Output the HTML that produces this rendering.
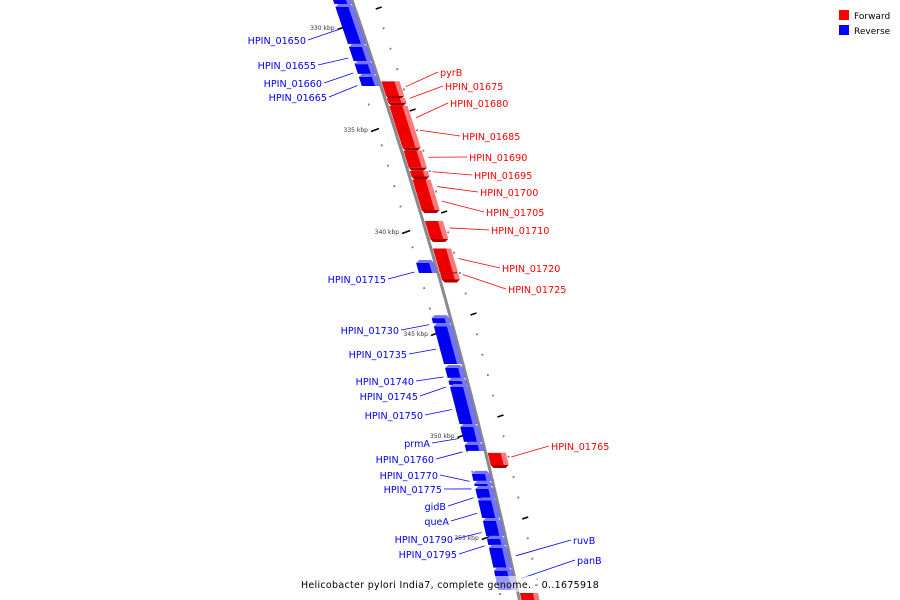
<!DOCTYPE html>
<html><head><meta charset="utf-8"><style>
html,body{margin:0;padding:0;background:#fff;overflow:hidden;width:900px;height:600px;}
svg{display:block;font-family:"DejaVu Sans","Liberation Sans",sans-serif;}
</style></head><body>
<svg id="chart" width="900" height="600" viewBox="0 0 900 600" xmlns="http://www.w3.org/2000/svg" overflow="hidden">
<defs><clipPath id="frame"><rect x="0" y="0" width="900" height="600"/></clipPath></defs>
<g clip-path="url(#frame)">
<g id="ticks"></g>
<polyline id="backbone" fill="none" stroke="#8a8a8a" stroke-width="3"/>
<g id="genes"></g>
<g id="labels"></g>
</g>
<g>
  <rect x="839" y="10" width="10" height="10" fill="#ff0000"/>
  <text x="854" y="19" font-size="9" fill="#000">Forward</text>
  <rect x="839" y="25" width="10" height="10" fill="#0000ff"/>
  <text x="854" y="34" font-size="9" fill="#000">Reverse</text>
</g>
<rect x="312" y="576" width="276" height="16" fill="#fff" fill-opacity="0.6"/>
<text x="450" y="588" font-size="9.5" text-anchor="middle" fill="#000" letter-spacing="0.3">Helicobacter pylori India7, complete genome. - 0..1675918</text>
</svg>
<script>
// data (kbp)
const majorTicks = [330, 335, 340, 345, 350, 355];
const tickLabels = ["330 kbp", "335 kbp", "340 kbp", "345 kbp", "350 kbp", "355 kbp"];
const geneNames = ["", "HPIN_01650","HPIN_01655","HPIN_01660","HPIN_01665","pyrB","HPIN_01675","HPIN_01680","HPIN_01685","HPIN_01690","HPIN_01695","HPIN_01700","HPIN_01705","HPIN_01710","HPIN_01715","HPIN_01720","HPIN_01725","HPIN_01730","HPIN_01735","HPIN_01740","HPIN_01745","HPIN_01750","prmA","HPIN_01760","HPIN_01765","HPIN_01770","HPIN_01775","gidB","queA","HPIN_01790","HPIN_01795","ruvB","panB",""];
const geneStart = [327.5,328.92,330.88,331.72,332.35,332.57,333.38,333.77,334.30,335.97,336.96,337.38,338.19,339.41,341.47,340.76,341.98,344.17,344.57,346.62,347.25,347.55,349.51,350.39,350.78,351.81,352.30,352.55,353.11,354.12,354.99,355.43,356.55,357.65];
const geneEnd = [328.87,330.83,331.67,332.30,332.89,333.38,333.72,335.24,335.92,336.90,337.33,338.36,338.97,340.39,342.06,342.03,342.38,344.52,346.52,347.20,347.55,349.46,350.34,350.78,351.47,352.25,352.50,353.11,354.07,354.95,355.39,356.50,357.60,358.3];
const geneStrand = [-1,-1,-1,-1,-1,1,1,1,1,1,1,1,1,1,-1,1,1,-1,-1,-1,-1,-1,-1,-1,1,-1,-1,-1,-1,-1,-1,-1,-1,1];

const Y0 = 28, PXK = 20.4;
function yOf(k){ return Y0 + (k - 330) * PXK; }
function lineX(y){ return 352 + 0.345*y - 0.00011*y*y; }
const NS = "http://www.w3.org/2000/svg";
function mk(tag, attrs, parent){ const e=document.createElementNS(NS,tag); for(const a in attrs) e.setAttribute(a, attrs[a]); parent.appendChild(e); return e; }

const pts=[]; for(let y=0;y<=600;y+=10) pts.push(lineX(y).toFixed(1)+","+y);
document.getElementById('backbone').setAttribute('points', pts.join(" "));

const tg=document.getElementById('ticks');
for(let k=328;k<=358;k++){
  const y=yOf(k);
  if(majorTicks.includes(k)){
    const i=majorTicks.indexOf(k);
    const lx=lineX(y)-20;
    const t=mk('line',{x1:lx-4,y1:y+1.5,x2:lx+4,y2:y-1.5,stroke:'#000','stroke-width':1.5},tg);
    
    
    const lb=mk('text',{x:lx-7,y:y+2,'font-size':6,'text-anchor':'end',fill:'#333'},tg);
    
    
    lb.textContent=tickLabels[i];
    const ry=y-20, rx=lineX(ry)+24;
    const r=mk('line',{x1:rx-3,y1:ry+1,x2:rx+3,y2:ry-1,stroke:'#000','stroke-width':1.5},tg);
    
    
  } else {
    const ly=y-5, lx=lineX(ly)-18;
    const d=mk('rect',{x:lx-1,y:ly-1,width:1.8,height:1.8,fill:'#777'},tg);
    
    
    const ry=y-20, rx=lineX(ry)+22;
    const d2=mk('rect',{x:rx-1,y:ry-1,width:1.8,height:1.8,fill:'#777'},tg);
    
    
  }
}

const gg=document.getElementById('genes'), lg=document.getElementById('labels');
for(let i=0;i<geneStart.length;i++){
  const y1=Math.max(0,yOf(geneStart[i])+1), y2=Math.min(600,yOf(geneEnd[i])-1), s=geneStrand[i];
  const x1=lineX(y1), x2=lineX(y2);
  const W=18, S=5;
  let a1,a2,b1,b2;
  if(s<0){ a1=x1-1-W; b1=x1-1; a2=x2-1-W; b2=x2-1; } else { a1=x1+2; b1=x1+2+W; a2=x2+2; b2=x2+2+W; }
  const col=s<0?'#0000f0':'#ee0000', light=s<0?'#7474ff':'#ff7a7a';
  const g=mk('g',{},gg);
  
  
  mk('polygon',{points:`${a1},${y1} ${b1},${y1} ${b2},${y2} ${a2},${y2}`,fill:col},g);
  mk('polygon',{points:`${b1-S},${y1} ${b1},${y1} ${b2},${y2} ${b2-S},${y2}`,fill:light},g);
  if(s<0) mk('polygon',{points:`${a1},${y1} ${b1},${y1} ${b1-3},${Math.max(0,y1-3)} ${a1+3},${Math.max(0,y1-3)}`,fill:light},g);
  else mk('polygon',{points:`${a2},${y2} ${b2},${y2} ${b2-3},${Math.min(600,y2+3)} ${a2+3},${Math.min(600,y2+3)}`,fill:'#aa0000'},g);
}

const labelX=[0,306,316,322,327,440,445,450,462,469,474,480,486,491,386,502,508,399,407,414,418,423,430,434,551,438,442,446,449,453,457,573,577,0];
const labelY=[0,40,65,83,97,72,86,103,136,157,175,192,212,230,279,268,289,330,354,381,396,415,443,459,446,475,489,506,521,539,554,540,560,0];
for(let i=0;i<geneNames.length;i++){
  if(!geneNames[i]) continue;
  const s=geneStrand[i], ym=(yOf(geneStart[i])+yOf(geneEnd[i]))/2;
  const right = labelX[i] > lineX(labelY[i]);
  const col=s<0?'#0000ff':'#ff0000';
  let tx,ty,lx1;
  if(right){ tx=lineX(ym)+(s<0?6:24); ty=ym-2; lx1=labelX[i]-2; }
  else { tx=lineX(ym)-22; ty=ym+4; lx1=labelX[i]+2; }
  const l=mk('line',{x1:lx1,y1:labelY[i],x2:tx,y2:ty,stroke:col,'stroke-width':0.8},lg);
  
  
  const t=mk('text',{x:labelX[i],y:labelY[i]+4,'font-size':9.6,fill:col,'text-anchor':right?'start':'end'},lg);
  
  
  t.textContent=geneNames[i];
}
</script>
</body></html>
